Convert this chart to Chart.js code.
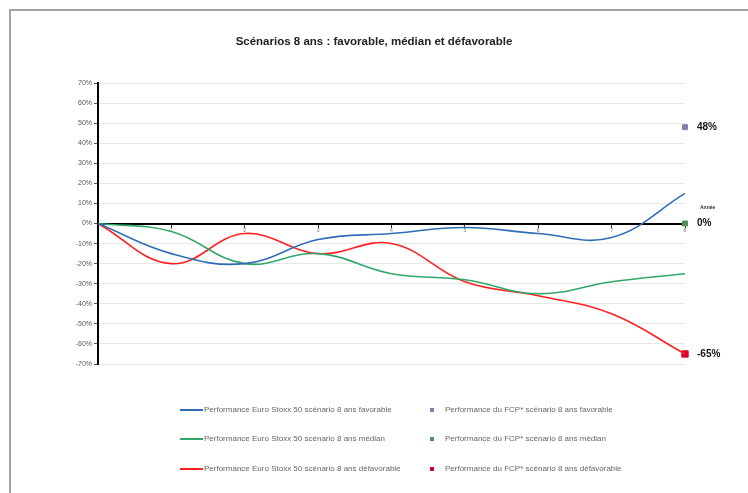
<!DOCTYPE html>
<html lang="fr">
<head>
<meta charset="utf-8">
<title>Scénarios 8 ans</title>
<script src="https://cdn.jsdelivr.net/npm/chart.js@4.4.1/dist/chart.umd.min.js"></script>
<style>
    html, body { margin: 0; padding: 0; background: #fff; }
    body { width: 748px; height: 493px; position: relative; overflow: hidden;
           font-family: "Liberation Sans", Arial, sans-serif; }
    #cadre { position: absolute; left: 9px; top: 9px; width: 760px; height: 500px;
             border-top: 2px solid #a3a3a3; border-left: 2px solid #a3a3a3; }
    #graph { position: absolute; left: 0; top: 0; }
    #titre { position: absolute; top: 35px; left: 0; width: 748px; text-align: center;
             font-size: 11.5px; font-weight: bold; color: #222; }
    .leg { position: absolute; font-size: 8px; color: #666; white-space: nowrap;
           line-height: 9px; }
    .leg i { position: absolute; display: block; }
</style>
</head>
<body>
<div id="cadre"></div>
<canvas id="graph" width="748" height="493"></canvas>
<div id="titre">Scénarios 8 ans : favorable, médian et défavorable</div>
<div id="legende"></div>

<script>
/* ----------------------------------------------------------------------
   DONNEES
---------------------------------------------------------------------- */
const annees = [0, 1, 2, 3, 4, 5, 6, 7, 8];
const perfFavorable   = [0, -15, -20,  -8,  -5,  -2,  -5,  -7,  15];
const perfMedian      = [0,  -4, -20, -15, -25, -28, -35, -29, -25];
const perfDefavorable = [0, -20,  -5, -15, -10, -29, -36, -45, -65];

const anneeFinale = 8;
const fcpFavorable = 48;
const fcpMedian = 0;
const fcpDefavorable = -65;

const yMin = -70, yMax = 70, yPas = 10;

const libelles = [
    "Performance Euro Stoxx 50 scénario 8 ans favorable",
    "Performance Euro Stoxx 50 scénario 8 ans médian",
    "Performance Euro Stoxx 50 scénario 8 ans défavorable",
    "Performance du FCP* scénario 8 ans favorable",
    "Performance du FCP* scénario 8 ans médian",
    "Performance du FCP* scénario 8 ans défavorable"
];

/* COULEURS */
const bleu = "#2f6db5";
const vert = "#2fa86a";
const rouge = "#ff1f1f";
const carreBleu = "#7f80b0";
const carreVert = "#4f8f60";
const carreRouge = "#e0002a";

const FONT = "'Liberation Sans', Arial, sans-serif";

function points(valeurs) {
    return annees.map((a, i) => ({ x: a, y: valeurs[i] }));
}

/* ----------------------------------------------------------------------
   ETIQUETTES DES POINTS FCP + TITRE D'AXE
---------------------------------------------------------------------- */
const etiquettes = {
    id: "etiquettes",
    afterDraw(chart) {
        const ctx = chart.ctx;
        ctx.save();
        ctx.fillStyle = "#111";
        ctx.textBaseline = "middle";
        ctx.textAlign = "left";
        ctx.font = "bold 10px " + FONT;
        chart.data.datasets.forEach((ds, i) => {
            if (ds.type !== "scatter") return;
            const el = chart.getDatasetMeta(i).data[0];
            ctx.fillText(ds.data[0].y + "%", el.x + 12, el.y);
        });
        const y0 = chart.scales.y.getPixelForValue(0);
        ctx.font = "bold 5px " + FONT;
        ctx.fillStyle = "#333";
        ctx.fillText("Année", chart.chartArea.right + 15, y0 - 16);
        ctx.restore();
    }
};

/* ----------------------------------------------------------------------
   GRAPHIQUE
---------------------------------------------------------------------- */
const ctx = document.querySelector("#graph").getContext("2d");

const datasets = [
    { type: "line", label: libelles[0], data: points(perfFavorable), borderColor: bleu,
      borderWidth: 1.6, pointRadius: 0, tension: 0.4, fill: false },
    { type: "line", label: libelles[1], data: points(perfMedian), borderColor: vert,
      borderWidth: 1.6, pointRadius: 0, tension: 0.4, fill: false },
    { type: "line", label: libelles[2], data: points(perfDefavorable), borderColor: rouge,
      borderWidth: 1.6, pointRadius: 0, tension: 0.4, fill: false },
    { type: "scatter", label: libelles[3], data: [{ x: anneeFinale, y: fcpFavorable }],
      backgroundColor: carreBleu, borderColor: carreBleu, pointStyle: "rect", pointRadius: 3.5, clip: false },
    { type: "scatter", label: libelles[4], data: [{ x: anneeFinale, y: fcpMedian }],
      backgroundColor: carreVert, borderColor: carreVert, pointStyle: "rect", pointRadius: 3.5, clip: false },
    { type: "scatter", label: libelles[5], data: [{ x: anneeFinale, y: fcpDefavorable }],
      backgroundColor: carreRouge, borderColor: carreRouge, pointStyle: "rect", pointRadius: 4.5, clip: false }
];

new Chart(ctx, {
    data: { datasets },
    options: {
        responsive: false,
        animation: false,
        devicePixelRatio: 1,
        layout: { padding: { left: 0, right: 63, top: 83, bottom: 129 } },
        plugins: { legend: { display: false }, title: { display: false }, tooltip: { enabled: false } },
        scales: {
            x: {
                type: "linear",
                min: 0,
                max: anneeFinale,
                position: { y: 0 },
                border: { color: "#000", width: 2 },
                grid: { drawOnChartArea: false, drawTicks: true, tickLength: 3, color: "#333" },
                ticks: {
                    stepSize: 1,
                    padding: 1,
                    color: "#777",
                    font: { size: 5, family: FONT },
                    callback: v => v === 0 ? "" : v
                }
            },
            y: {
                min: yMin,
                max: yMax,
                afterFit: s => { s.width = 98; },
                border: { color: "#000", width: 2 },
                grid: { color: "#e8e8e8", lineWidth: 1, tickLength: 4, tickColor: "#555" },
                ticks: {
                    stepSize: yPas,
                    padding: 2,
                    color: "#555",
                    font: { size: 7, family: FONT },
                    callback: v => v + "%"
                }
            }
        }
    },
    plugins: [etiquettes]
});

/* ----------------------------------------------------------------------
   LEGENDE (deux colonnes)
---------------------------------------------------------------------- */
const legende = document.querySelector("#legende");
const lignesY = [405, 434, 464];
datasets.forEach((ds, i) => {
    const rang = i % 3;
    const estLigne = ds.type === "line";
    const item = document.createElement("div");
    item.className = "leg";
    item.style.top = lignesY[rang] + "px";
    item.style.left = (estLigne ? 204 : 445) + "px";
    item.textContent = ds.label;
    const marque = document.createElement("i");
    if (estLigne) {
        marque.style.cssText = `left:-24px;top:4px;width:23px;height:1.5px;background:${ds.borderColor}`;
    } else {
        marque.style.cssText = `left:-15px;top:2.5px;width:4px;height:4px;background:${ds.backgroundColor}`;
    }
    item.appendChild(marque);
    legende.appendChild(item);
});
</script>
</body>
</html>
